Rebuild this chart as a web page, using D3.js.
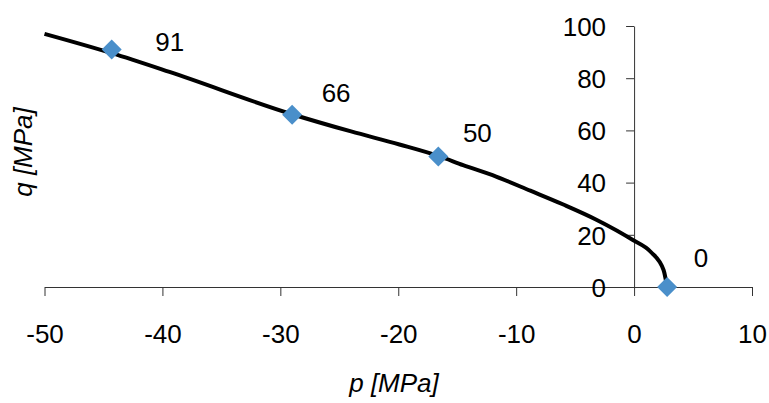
<!DOCTYPE html>
<html>
<head>
<meta charset="utf-8">
<script src="https://cdn.jsdelivr.net/npm/d3@7"></script>
<style>
  body { margin: 0; background: #fff; }
</style>
</head>
<body>
<div class="chart"></div>
<script>
"use strict";
(function(){

// envelope curve
var curveP = [-50, -44.3, -39.4, -29, -24, -19.9, -16.6, -14.5, -11.7, -8.8, -6, -3.2, -0.1, 1.4, 2.5, 2.8];
var curveQ = [97.0, 89.6, 82.4, 66.2, 59.6, 54.6, 50.2, 46.7, 42.3, 36.9, 31.6, 25.8, 18.0, 13.5, 6.5, 0];

// marked points and their labels
var pointP = [-44.3, -29, -16.6, 2.8];
var pointQ = [91, 66, 50, 0];
var pointLabels = ["91", "66", "50", "0"];

var xTicks = [-50, -40, -30, -20, -10, 0, 10];
var yTicks = [0, 20, 40, 60, 80, 100];

// label nudges (px) from each marker
var labelDx = [58, 44, 39, 34];
var labelDy = [2, -13, -15, -20];

var width = 769;
var height = 403;
var fontFamily = '"Liberation Sans", "DejaVu Sans", sans-serif';
var fontSize = 26;

var svg = d3.select('.chart')
            .append('svg')
            .attr('width', width)
            .attr('height', height);

var x = d3.scaleLinear().domain([-50, 10]).range([44.5, 752]);
var y = d3.scaleLinear().domain([0, 100]).range([287, 26]);

var plain = function(d){ return String(d); };

// x axis, crossing at q = 0
var xAxis = svg.append('g')
               .attr('transform', 'translate(0,' + y(0) + ')')
               .call(d3.axisBottom(x).tickValues(xTicks).tickFormat(plain).tickSize(9).tickSizeOuter(0))
               .attr('font-family', fontFamily)
               .attr('font-size', fontSize);
xAxis.select('.domain').attr('stroke', '#333');
xAxis.selectAll('.tick line').attr('stroke', '#333');
xAxis.selectAll('.tick text')
     .attr('y', 56).attr('dy', 0)
     .attr('fill', '#000');

// y axis, crossing at p = 0
var yAxis = svg.append('g')
               .attr('transform', 'translate(' + x(0) + ',0)')
               .call(d3.axisLeft(y).tickValues(yTicks).tickFormat(plain).tickSize(8).tickSizeOuter(0))
               .attr('font-family', fontFamily)
               .attr('font-size', fontSize);
yAxis.select('.domain').attr('stroke', '#333');
yAxis.selectAll('.tick line').attr('stroke', '#333');
yAxis.selectAll('.tick text')
     .attr('x', -28).attr('dy', '0.36em')
     .attr('fill', '#000');

// curve
var curveData = curveP.map(function(p, i){ return {p: p, q: curveQ[i]}; });
var line = d3.line()
             .x(function(d){ return x(d.p); })
             .y(function(d){ return y(d.q); })
             .curve(d3.curveMonotoneX);

svg.append('path')
   .datum(curveData)
   .attr('d', line)
   .attr('fill', 'none')
   .attr('stroke', '#000')
   .attr('stroke-width', 4);

// markers
var points = pointP.map(function(p, i){
  return {p: p, q: pointQ[i], label: pointLabels[i], dx: labelDx[i], dy: labelDy[i]};
});

var diamond = d3.symbol().type(d3.symbolSquare).size(200);

svg.selectAll('.marker')
   .data(points)
   .enter().append('path')
   .attr('class', 'marker')
   .attr('d', diamond)
   .attr('transform', function(d){
     return 'translate(' + x(d.p) + ',' + y(d.q) + ') rotate(45)';
   })
   .attr('fill', '#4a8fca');

svg.selectAll('.plabel')
   .data(points)
   .enter().append('text')
   .attr('class', 'plabel')
   .attr('x', function(d){ return x(d.p) + d.dx; })
   .attr('y', function(d){ return y(d.q) + d.dy; })
   .attr('text-anchor', 'middle')
   .attr('font-family', fontFamily)
   .attr('font-size', fontSize)
   .text(function(d){ return d.label; });

// axis titles
svg.append('text')
   .attr('x', 394)
   .attr('y', 392)
   .attr('text-anchor', 'middle')
   .attr('font-family', fontFamily)
   .attr('font-size', fontSize)
   .attr('font-style', 'italic')
   .text('p [MPa]');

svg.append('text')
   .attr('transform', 'translate(32,152) rotate(-90)')
   .attr('text-anchor', 'middle')
   .attr('font-family', fontFamily)
   .attr('font-size', fontSize)
   .attr('font-style', 'italic')
   .text('q [MPa]');

})();
</script>
</body>
</html>
